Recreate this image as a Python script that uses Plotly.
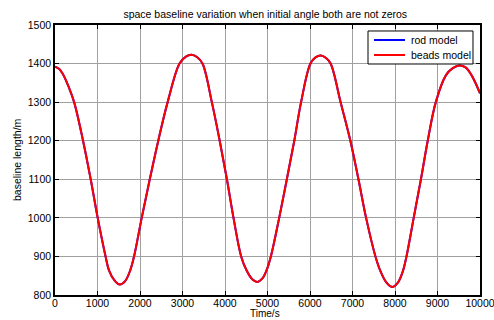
import plotly.graph_objects as go

# Time samples (s) and baseline length (m) along the trajectory
time_s = [0, 100, 200, 320, 450, 660, 840, 1005, 1190, 1270, 1400, 1525, 1650,
          1770, 1860, 2040, 2230, 2430, 2650, 2930, 3080, 3211, 3340, 3470, 3690,
          3875, 4045, 4200, 4380, 4506, 4640, 4765, 4880, 4977, 5079, 5275, 5455,
          5630, 5790, 6010, 6130, 6256, 6370, 6485, 6720, 6950, 7140, 7320, 7540,
          7650, 7800, 7930, 8060, 8180, 8270, 8440, 8610, 8770, 8960, 9200, 9360,
          9515, 9660, 9800, 10000]
rod_model = [1392, 1386, 1370, 1340, 1300, 1200, 1100, 1000, 900, 864, 838, 827,
             836, 864, 900, 1000, 1100, 1200, 1300, 1400, 1418, 1423, 1417, 1400,
             1300, 1200, 1100, 1000, 900, 864, 841, 834, 843, 864, 900, 1000, 1100,
             1200, 1300, 1400, 1416, 1421, 1415, 1400, 1300, 1200, 1100, 1000, 900,
             864, 832, 821, 831, 860, 900, 1000, 1100, 1200, 1300, 1370, 1388, 1395,
             1390, 1370, 1323]
beads_model = list(rod_model)

series_names = ["rod model", "beads model"]
series_colors = ["#0000ff", "#ff0000"]

x_ticks = [0, 1000, 2000, 3000, 4000, 5000, 6000, 7000, 8000, 9000, 10000]
y_ticks = [800, 900, 1000, 1100, 1200, 1300, 1400, 1500]

font = dict(family="Liberation Sans, Arial, sans-serif", size=10.5, color="#000000")
small_font = dict(font, size=10)

fig = go.Figure()
for name, color, values in zip(series_names, series_colors, [rod_model, beads_model]):
    fig.add_trace(go.Scatter(x=time_s, y=values, mode="lines", name=name, showlegend=False,
                             line=dict(color=color, width=2, shape="spline", smoothing=1.0)))

axis_common = dict(showline=True, linecolor="#000000", linewidth=1.5, mirror="ticks",
                   ticks="inside", ticklen=4, tickcolor="#000000", showgrid=True,
                   gridcolor="#a0a0a0", gridwidth=1, zeroline=False, tickfont=font,
                   automargin=False, ticklabeloverflow="allow")

fig.update_xaxes(range=[0, 10000], tickvals=x_ticks, ticktext=[str(v) for v in x_ticks],
                 ticklabelstandoff=-2, **axis_common)
fig.update_yaxes(range=[800, 1500], tickvals=y_ticks, ticktext=[str(v) for v in y_ticks],
                 **axis_common)

# axis titles
fig.add_annotation(text="Time/s", xref="paper", yref="paper", x=0.494, y=-0.0926,
                   xanchor="center", yanchor="bottom", borderpad=0, showarrow=False,
                   font=small_font)
fig.add_annotation(text="baseline length/m", xref="paper", yref="paper", x=-0.0894, y=0.5,
                   xanchor="center", yanchor="middle", textangle=-90, showarrow=False, font=font)

# compact boxed key in the upper-right corner of the axes
box_x0, box_x1, box_y0, box_y1 = 0.7365, 0.9835, 0.8556, 0.9778
fig.add_shape(type="rect", xref="paper", yref="paper", x0=box_x0, x1=box_x1,
              y0=box_y0, y1=box_y1, line=dict(color="#000000", width=1),
              fillcolor="#ffffff", layer="above")
for i, (name, color) in enumerate(zip(series_names, series_colors)):
    row_y = 0.9444 - i * 0.0555
    fig.add_shape(type="line", xref="paper", yref="paper", x0=0.7506, x1=0.8235,
                  y0=row_y, y1=row_y, line=dict(color=color, width=2), layer="above")
    fig.add_annotation(text=name, xref="paper", yref="paper", x=0.8329, y=row_y,
                       xanchor="left", yanchor="middle", showarrow=False, font=font)

fig.update_layout(
    width=494, height=320, autosize=False,
    margin=dict(l=55, r=14, t=25, b=25),
    paper_bgcolor="#ffffff", plot_bgcolor="#ffffff",
    font=font,
    title=dict(text="space baseline variation when initial angle both are not zeros",
               xref="container", x=0.537, xanchor="center",
               yref="container", y=0.956, yanchor="middle", font=font),
    showlegend=False,
)

fig.write_html("out.html")
